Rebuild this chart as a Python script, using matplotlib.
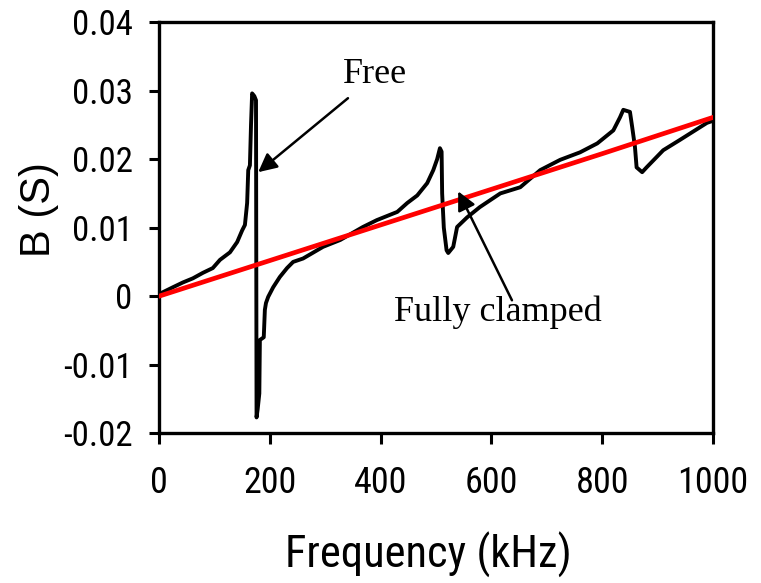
import matplotlib
matplotlib.use('Agg')
import matplotlib.pyplot as plt

# Susceptance B vs frequency, free vs fully clamped
free_khz = [0, 25, 43, 61, 79, 97, 110, 128, 141, 150, 155, 159, 161, 164,
            166, 168, 172, 175, 176, 178, 181, 182, 189, 191, 193, 197, 206,
            218, 231, 242, 260, 296, 327, 368, 393, 430, 448, 466, 484, 495,
            502, 507, 510, 511, 514, 519, 522, 531, 538, 556, 579, 616, 652,
            688, 724, 760, 791, 820, 832, 838, 850, 854, 859, 862, 872, 880,
            910, 940, 989, 1000]
free_b = [0.0003, 0.0013, 0.0020, 0.0026, 0.0034, 0.0041, 0.0053, 0.0064,
          0.0079, 0.0096, 0.0104, 0.0136, 0.0184, 0.0191, 0.0250, 0.0296,
          0.0292, 0.0286, -0.0177, -0.0165, -0.0142, -0.0064, -0.0060,
          -0.0020, -0.0010, -0.0001, 0.0013, 0.0028, 0.0041, 0.0050, 0.0055,
          0.0072, 0.0082, 0.0101, 0.0111, 0.0123, 0.0136, 0.0147, 0.0165,
          0.0184, 0.0200, 0.0216, 0.0211, 0.0150, 0.0100, 0.0067, 0.0063,
          0.0072, 0.0101, 0.0115, 0.0130, 0.0150, 0.0159, 0.0184, 0.0199,
          0.0210, 0.0223, 0.0242, 0.0261, 0.0272, 0.0269, 0.0247, 0.0218,
          0.0188, 0.0181, 0.0188, 0.0213, 0.0228, 0.0253, 0.0256]

clamped_khz = [0, 200, 400, 600, 800, 1000]
clamped_b = [0.0, 0.0052, 0.0104, 0.0156, 0.0208, 0.0261]

xticks = [0, 200, 400, 600, 800, 1000]
yticks = [-0.02, -0.01, 0, 0.01, 0.02, 0.03, 0.04]
ytick_labels = ['-0.02', '-0.01', '0', '0.01', '0.02', '0.03', '0.04']

sans = ['Roboto Condensed', 'Liberation Sans']
serif = ['Liberation Serif']

fig = plt.figure(figsize=(7.61, 5.83), dpi=100)
ax = fig.add_axes([0.209, 0.257, 0.728, 0.705])

ax.plot(free_khz, free_b, color='black', lw=2.8, zorder=2)
ax.plot(clamped_khz, clamped_b, color='#ff0000', lw=3.4, zorder=3)

ax.set_xlim(0, 1000)
ax.set_ylim(-0.02, 0.04)
ax.set_xticks(xticks)
ax.set_yticks(yticks)
ax.set_yticklabels(ytick_labels)

for s in ax.spines.values():
    s.set_linewidth(2.4)
ax.tick_params(axis='x', direction='out', length=8, width=2.2, pad=15)
ax.tick_params(axis='y', direction='out', length=7, width=2.2, pad=12)
for lab in ax.get_xticklabels():
    lab.set_fontfamily(sans)
    lab.set_fontsize(26)
for lab in ax.get_yticklabels():
    lab.set_fontfamily(sans)
    lab.set_fontsize(25)

ax.set_xlabel('Frequency (kHz)', fontfamily=sans, fontsize=32)
ax.xaxis.set_label_coords(0.486, -0.24)
ax.set_ylabel('B (S)', fontfamily=['Liberation Sans'], fontsize=30)
ax.yaxis.set_label_coords(-0.18, 0.545)

# annotations
ax.text(390, 0.0323, 'Free', fontfamily=serif, fontsize=26,
        ha='center', va='center')
ax.text(612, -0.0024, 'Fully clamped', fontfamily=serif, fontsize=26,
        ha='center', va='center')
arrow = dict(arrowstyle='-|>', color='black', lw=1.8, mutation_scale=28,
             shrinkA=0, shrinkB=0)
ax.annotate('', xy=(179, 0.0181), xytext=(341, 0.0289), arrowprops=arrow)
ax.annotate('', xy=(540, 0.0153), xytext=(637, -0.0006), arrowprops=arrow)

fig.savefig('out.png', dpi=100)
